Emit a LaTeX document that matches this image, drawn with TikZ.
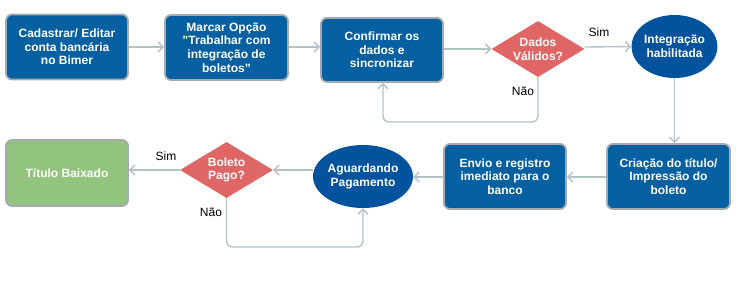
\documentclass[tikz,border=0pt]{standalone}
\usepackage{fontspec}
\setmainfont{Liberation Sans}
\usetikzlibrary{shapes.geometric,arrows.meta}
\definecolor{boxblue}{HTML}{0460A0}
\definecolor{ellblue}{HTML}{00539C}
\definecolor{boxgray}{HTML}{A4ABB0}
\definecolor{dred}{HTML}{E06666}
\definecolor{dgreen}{HTML}{93C47D}
\definecolor{arrgray}{HTML}{B4C2C6}
\newcommand{\dq}{\symbol{34}}
\tikzset{
  base/.style={text=white, font=\fontsize{12}{13.7}\selectfont\bfseries, align=center, inner sep=0pt},
  stepbox/.style={base, rectangle, rounded corners=6pt, fill=boxblue, draw=boxgray, line width=1.8pt, minimum width=122pt, minimum height=65pt},
  greenbox/.style={stepbox, fill=dgreen},
  ell/.style={base, ellipse, fill=ellblue, minimum width=85pt, minimum height=63pt},
  dec/.style={base, diamond, fill=dred, aspect=1.66, minimum width=93pt, minimum height=56pt},
  conn/.style={draw=arrgray, line width=1.4pt, -{Straight Barb[length=5pt,width=10pt,line width=1.4pt]}, rounded corners=6pt},
  lbl/.style={font=\fontsize{12}{14}\selectfont, text=black, inner sep=0pt}
}
\begin{document}
\begin{tikzpicture}[x=1pt,y=-1pt]
\useasboundingbox (0,0) rectangle (750,282);
\node[stepbox] (b1) at (67,47) {Cadastrar/ Editar\\conta bancária\\no Bimer};
\node[stepbox, minimum width=123pt] (b2) at (226.5,47.5) {Marcar Opção\\\dq Trabalhar com\\integração de\\boletos\dq};
\node[stepbox, minimum height=64pt] (b3) at (382,50) {Confirmar os\\dados e\\sincronizar};
\node[dec] (d1) at (538,49) {Dados\\Válidos?};
\node[ell] (e1) at (674.5,46.5) {Integração\\habilitada};
\node[stepbox, minimum width=123pt] (b4) at (668.5,176.5) {Criação do título/\\Impressão do\\boleto};
\node[stepbox] (b5) at (505,176.5) {Envio e registro\\imediato para o\\banco};
\node[ell] (e2) at (363,176.5) {Aguardando\\Pagamento};
\node[dec] (d2) at (226.5,170) {Boleto\\Pago?};
\node[greenbox, minimum height=66pt] (b6) at (67,173) {Título Baixado};

\node[lbl] (s1) at (599,32) {Sim};
\node[lbl] (n1) at (523,91) {Não};
\node[lbl] (s2) at (166,156) {Sim};
\node[lbl] (n2) at (211,212) {Não};

\coordinate (l1) at (383,122);
\coordinate (l2) at (363,247);

\draw[conn] (b1.east |- 0,47) -- (b2.west |- 0,47);
\draw[conn] (b2.east |- 0,47) -- (b3.west |- 0,47);
\draw[conn] (b3.east |- d1.west) -- (d1.west);
\draw[conn] (d1.east |- 0,47) -- (e1.west);
\draw[conn] (e1.south) -- (e1.south |- b4.north);
\draw[conn] (b4.west |- 0,177) -- (b5.east |- 0,177);
\draw[conn] (b5.west |- 0,177) -- (e2.east |- 0,177);
\draw[conn] (e2.west |- d2.east) -- (d2.east);
\draw[conn] (d2.west) -- (b6.east |- d2.west);
\draw[conn] (d1.south) |- (l1) -- (l1 |- b3.south);
\draw[conn] (d2.south) |- (l2) -- (e2.south);
\end{tikzpicture}
\end{document}
